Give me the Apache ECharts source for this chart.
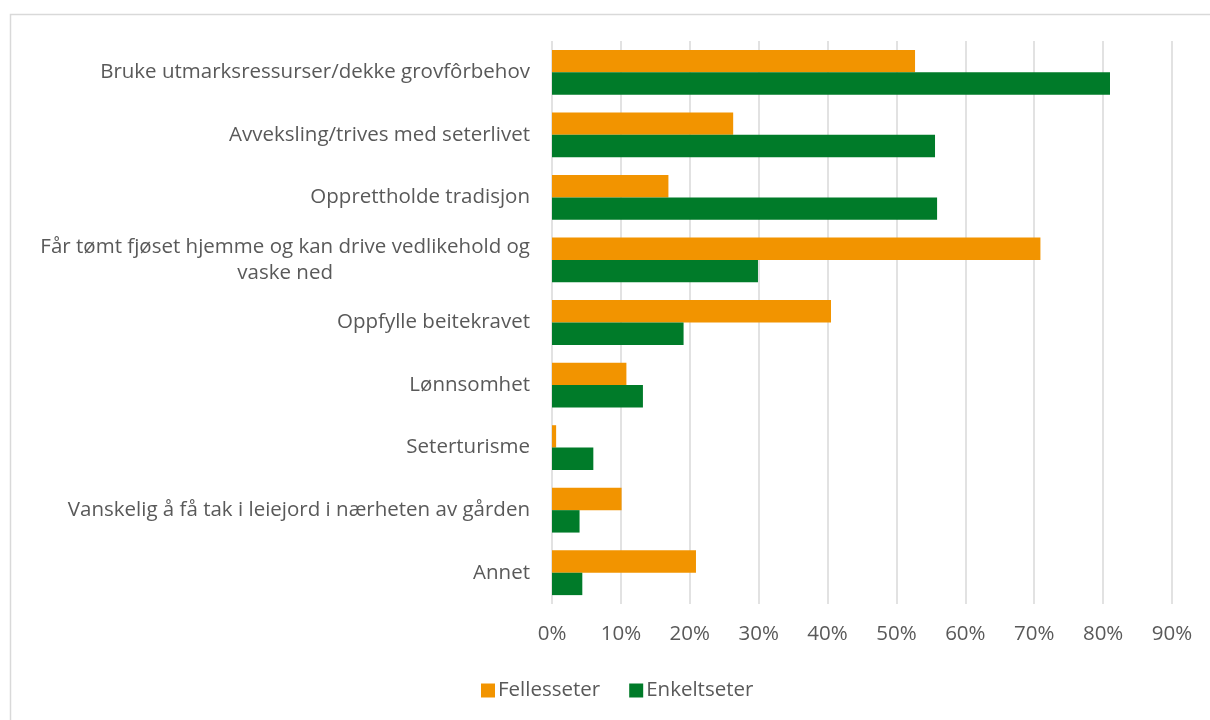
<!DOCTYPE html>
<html>
<head>
<meta charset="utf-8">
<title>Fellesseter og enkeltseter</title>
<script src="https://cdn.jsdelivr.net/npm/echarts@6/dist/echarts.min.js"></script>
<style>
  html, body { margin: 0; padding: 0; background: #ffffff; }
  #chart { width: 1210px; height: 720px; }
</style>
</head>
<body>
<div id="chart"></div>
<script>
// Reasons for using the summer farm, share of respondents (%)
const categories = [
  'Bruke utmarksressurser/dekke grovfôrbehov',
  'Avveksling/trives med seterlivet',
  'Opprettholde tradisjon',
  'Får tømt fjøset hjemme og kan drive vedlikehold og\nvaske ned',
  'Oppfylle beitekravet',
  'Lønnsomhet',
  'Seterturisme',
  'Vanskelig å få tak i leiejord i nærheten av gården',
  'Annet'
];
const seriesNames = ['Fellesseter', 'Enkeltseter'];
const fellesseter = [52.7, 26.3, 16.9, 70.9, 40.5, 10.8, 0.6, 10.1, 20.9];
const enkeltseter = [81.0, 55.6, 55.9, 29.9, 19.1, 13.2, 6.0, 4.0, 4.4];
const tickValues = [0, 10, 20, 30, 40, 50, 60, 70, 80, 90];

const FONT = 'Open Sans';
const FS = 20.5;
const TEXT = '#595959';
const GRID = '#d9d9d9';
const colors = ['#f29400', '#007b29'];

const chart = echarts.init(document.getElementById('chart'), null, { renderer: 'canvas' });

chart.setOption({
  backgroundColor: '#ffffff',
  animation: false,
  textStyle: { fontFamily: FONT },
  graphic: [{
    type: 'rect',
    left: 8, top: 12,
    shape: { width: 1300, height: 800 },
    style: { fill: 'none', stroke: GRID, lineWidth: 1.5 },
    silent: true
  }],
  grid: { left: 552, right: 38, top: 41, bottom: 116 },
  legend: {
    left: 476,
    top: 675,
    itemWidth: 14,
    itemHeight: 14,
    itemGap: 29,
    icon: 'rect',
    data: seriesNames,
    textStyle: { color: TEXT, fontSize: FS, fontFamily: FONT, padding: [0, 0, 0, -2] }
  },
  xAxis: {
    type: 'value',
    min: tickValues[0],
    max: tickValues[tickValues.length - 1],
    interval: 10,
    axisLine: { show: false },
    axisTick: { show: false },
    splitLine: { show: true, lineStyle: { color: GRID, width: 1.5 } },
    axisLabel: {
      color: TEXT, fontSize: FS, fontFamily: FONT, margin: 20,
      formatter: v => v + '%'
    }
  },
  yAxis: {
    type: 'category',
    inverse: true,
    data: categories,
    axisLine: { show: false },
    axisTick: { show: false },
    axisLabel: {
      color: TEXT, fontSize: FS, fontFamily: FONT, margin: 22,
      lineHeight: 26,
      formatter: v => v.indexOf('\n') >= 0
        ? v.split('\n').map(line => '{c|' + line + '}').join('\n')
        : v,
      rich: {
        c: { align: 'center', color: TEXT, fontSize: FS, fontFamily: FONT, lineHeight: 26 }
      }
    }
  },
  series: [
    {
      name: seriesNames[0], type: 'bar', data: fellesseter,
      barWidth: 22.4, barGap: '0%',
      itemStyle: { color: colors[0] }
    },
    {
      name: seriesNames[1], type: 'bar', data: enkeltseter,
      barWidth: 22.4, barGap: '0%',
      itemStyle: { color: colors[1] }
    }
  ]
});
</script>
</body>
</html>
